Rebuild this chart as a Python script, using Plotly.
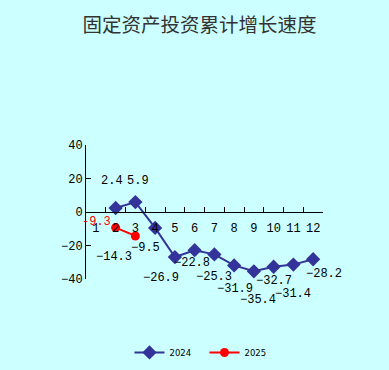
import plotly.graph_objects as go

months = [str(i) for i in range(1, 13)]
x_2024 = ["2", "3", "4", "5", "6", "7", "8", "9", "10", "11", "12"]
y_2024 = [2.4, 5.9, -9.5, -26.9, -22.8, -25.3, -31.9, -35.4, -32.7, -31.4, -28.2]
x_2025 = ["2", "3"]
y_2025 = [-9.3, -14.3]
y_ticks = [40, 20, 0, -20, -40]
title = "固定资产投资累计增长速度"

# label offsets (px) per point
off_2024 = [(-4, 27), (3, 21), (-10, -20), (-14, -21), (-3, -13), (0, -23),
            (1, -24), (4, -29), (0, -14), (0, -29), (11, -15)]
off_2025 = [(-19, 6), (-21, -21)]

num_font = dict(family="Liberation Mono, DejaVu Sans Mono, monospace", size=12, color="black")

fig = go.Figure()
fig.add_trace(go.Scatter(
    x=x_2024, y=y_2024, name="2024", mode="lines+markers",
    line=dict(color="#333399", width=2),
    marker=dict(symbol="diamond", size=11, color="#333399"),
))
fig.add_trace(go.Scatter(
    x=x_2025, y=y_2025, name="2025", mode="lines+markers",
    line=dict(color="#FF0000", width=2),
    marker=dict(symbol="circle", size=9, color="#FF0000"),
))

def fmt(v):
    return f"{v:g}".replace("-", "−")

annotations = []
for xv, yv, (dx, dy) in zip(x_2024, y_2024, off_2024):
    annotations.append(dict(x=months.index(xv), y=yv, xref="x", yref="y", text=fmt(yv),
                            showarrow=False, xshift=dx, yshift=dy, font=num_font))
colors_2025 = ["#FF0000", "black"]
for (xv, yv, (dx, dy)), c in zip(zip(x_2025, y_2025, off_2025), colors_2025):
    annotations.append(dict(x=months.index(xv), y=yv, xref="x", yref="y",
                            text=f"{yv:g}" if c != "black" else fmt(yv),
                            showarrow=False, xshift=dx, yshift=dy,
                            font=dict(num_font, color=c)))

fig.update_layout(
    width=389, height=370,
    paper_bgcolor="#CCFFFF", plot_bgcolor="#CCFFFF",
    margin=dict(l=86, r=66, t=145, b=91, autoexpand=False),
    title=dict(text=title, x=0.513, xanchor="center", y=0.932, yanchor="middle",
               font=dict(family="Noto Sans CJK SC", size=19.5, color="#333333")),
    showlegend=True,
    legend=dict(orientation="h", x=0.5, xanchor="center", y=-0.44, yanchor="top",
                font=dict(family="DejaVu Sans", size=8.5, color="black"),
                entrywidth=30, entrywidthmode="pixels", bgcolor="rgba(0,0,0,0)"),
    annotations=annotations,
    xaxis=dict(type="category", categoryorder="array", categoryarray=months,
               range=[-0.5, 11.5], tickvals=months, ticktext=months,
               tickson="boundaries", ticks="inside", ticklen=5, tickcolor="black",
               showline=True, linecolor="black", linewidth=1, tickangle=0,
               ticklabelstandoff=5,
               anchor="free", position=0.5, showgrid=False, zeroline=False,
               automargin=False, tickfont=num_font),
    yaxis=dict(range=[-40, 40], tickvals=y_ticks, ticktext=[fmt(v) for v in y_ticks],
               ticks="inside", ticklen=5, tickcolor="black",
               showline=True, linecolor="black", linewidth=1, automargin=False,
               showgrid=False, zeroline=False, tickfont=num_font),
)
fig.write_html("out.html", config={"displayModeBar": False},
               post_script="document.body.style.margin='0';document.body.style.background='#CCFFFF';")
